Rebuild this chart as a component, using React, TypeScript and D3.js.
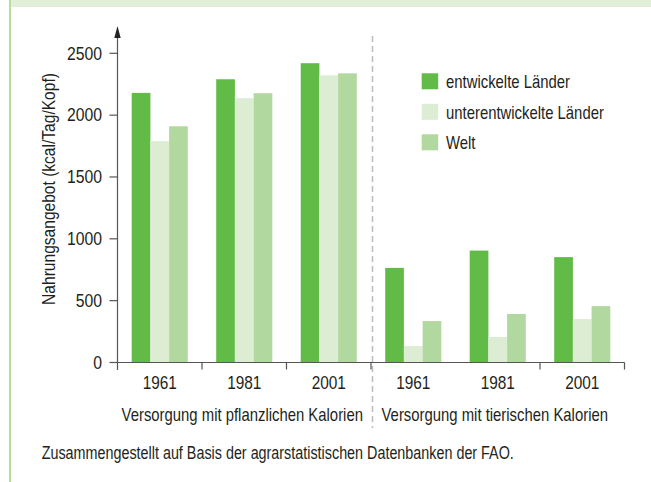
import { useMemo } from "react";
import * as d3 from "d3";

const W = 651;
const H = 482;

const years = ["1961", "1981", "2001"];
const sections = [
  "Versorgung mit pflanzlichen Kalorien",
  "Versorgung mit tierischen Kalorien",
];
const seriesNames = ["entwickelte Länder", "unterentwickelte Länder", "Welt"];
const seriesColors = ["#62bb46", "#ddedd4", "#b1d89e"];
// plant calories 1961/1981/2001, then animal calories 1961/1981/2001
const developed = [2180, 2290, 2420, 765, 905, 852];
const underdeveloped = [1790, 2137, 2322, 133, 206, 351];
const world = [1910, 2177, 2338, 335, 392, 456];
const yTicks = [0, 500, 1000, 1500, 2000, 2500];
const yLabel = "Nahrungsangebot (kcal/Tag/Kopf)";
const footnote =
  "Zusammengestellt auf Basis der agrarstatistischen Datenbanken der FAO.";

// condensed look: regular sans squeezed horizontally
const FONT = "'Liberation Sans', Arial, sans-serif";
const FS = 17.5;
const SX = 0.85;
const TEXT = "#231f20";
const AXIS = "#555";

type LabelProps = {
  x: number;
  y: number;
  anchor?: "start" | "middle" | "end";
  rotate?: number;
  dy?: string;
  sx?: number;
  size?: number;
  children: React.ReactNode;
};

function Label({
  x,
  y,
  anchor = "start",
  rotate = 0,
  dy,
  sx = SX,
  size = FS,
  children,
}: LabelProps) {
  return (
    <text
      transform={`translate(${x},${y}) rotate(${rotate}) scale(${sx},1)`}
      textAnchor={anchor}
      dy={dy}
      fontSize={size}
    >
      {children}
    </text>
  );
}

export default function App() {
  const groups = useMemo(
    () => sections.flatMap((s, i) => years.map((y) => `${i}-${y}`)),
    []
  );
  const values = [developed, underdeveloped, world];

  const x = d3.scaleBand<string>().domain(groups).range([117.5, 624.5]);
  const xInner = d3
    .scaleBand<string>()
    .domain(seriesNames)
    .range([14.2, x.bandwidth() - 14.2]);
  const y = d3.scaleLinear().domain([0, 2500]).range([362.5, 53.3]);

  const mid = x(groups[3])!;
  const x0 = 117.5;
  const xEnd = 624.5;

  return (
    <div style={{ position: "fixed", left: 0, top: 0 }}>
      <svg width={W} height={H} fontFamily={FONT} fill={TEXT}>
        <rect x={0} y={0} width={W} height={H} fill="#fff" />
        <rect x={11} y={0} width={W - 11} height={7} fill="#e1efd8" />
        <rect x={9} y={0} width={2} height={H} fill="#b6dd9f" />

        {/* bars */}
        {groups.map((g, gi) => (
          <g key={g} transform={`translate(${x(g)},0)`}>
            {seriesNames.map((s, si) => (
              <rect
                key={s}
                x={xInner(s)}
                y={y(values[si][gi])}
                width={xInner.bandwidth()}
                height={y(0) - y(values[si][gi])}
                fill={seriesColors[si]}
              />
            ))}
          </g>
        ))}

        {/* divider */}
        <line
          x1={mid + 1.5}
          x2={mid + 1.5}
          y1={36}
          y2={428}
          stroke="#bdbdbd"
          strokeWidth={1.5}
          strokeDasharray="6 4"
        />

        {/* y axis */}
        <line x1={x0} x2={x0} y1={32} y2={370} stroke={AXIS} strokeWidth={1.2} />
        <path d={`M${x0},26 L${x0 - 3.2},38 L${x0 + 3.2},38 Z`} fill="#222" />
        {yTicks.map((t) => (
          <g key={t}>
            <line x1={x0 - 8} x2={x0} y1={y(t)} y2={y(t)} stroke={AXIS} strokeWidth={1.2} />
            <Label x={102} y={y(t)} dy="0.36em" anchor="end" sx={0.9}>
              {t}
            </Label>
          </g>
        ))}
        <Label x={55} y={189} rotate={-90} anchor="middle" size={17.5} sx={0.89}>
          {yLabel}
        </Label>

        {/* x axis */}
        <line x1={x0} x2={xEnd} y1={y(0)} y2={y(0)} stroke={AXIS} strokeWidth={1.2} />
        {groups.map((g, gi) =>
          gi === 3 ? null : (
            <line
              key={g}
              x1={x(g)! + x.bandwidth()}
              x2={x(g)! + x.bandwidth()}
              y1={y(0)}
              y2={y(0) + 7}
              stroke={AXIS}
              strokeWidth={1.2}
            />
          )
        )}
        {groups.map((g, gi) => (
          <Label
            key={g}
            x={x(g)! + x.bandwidth() / 2}
            y={389}
            anchor="middle"
            sx={0.88}
          >
            {years[gi % 3]}
          </Label>
        ))}
        {sections.map((s, i) => (
          <Label
            key={s}
            x={i === 0 ? (x0 + mid) / 2 - 2 : (mid + xEnd) / 2 - 3}
            y={421}
            anchor="middle"
          >
            {s}
          </Label>
        ))}

        {/* legend */}
        {seriesNames.map((s, i) => (
          <g key={s}>
            <rect
              x={421.7}
              y={73.3 + i * 30.5}
              width={16.5}
              height={16}
              fill={seriesColors[i]}
            />
            <Label x={446} y={88.3 + i * 30.5}>
              {s}
            </Label>
          </g>
        ))}

        <Label x={41.7} y={459} sx={0.82}>
          {footnote}
        </Label>
      </svg>
    </div>
  );
}
